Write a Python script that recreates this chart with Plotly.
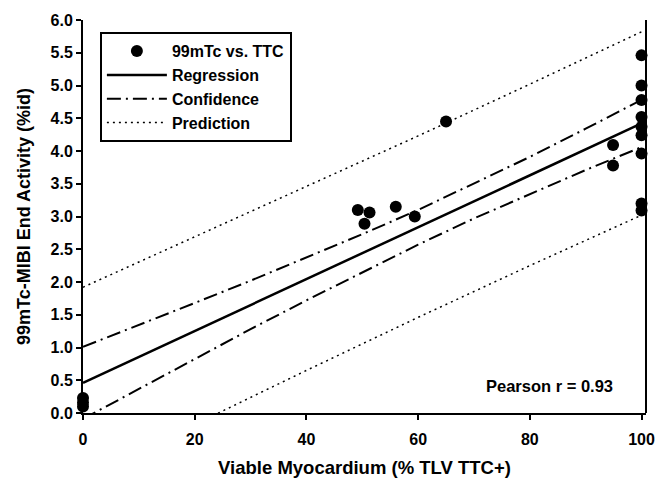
import plotly.graph_objects as go

# Scatter data: viable myocardium (% TLV TTC+) vs 99mTc-MIBI end activity (%id)
pts_x = [0, 0, 0, 49.2, 50.4, 51.3, 56.0, 59.4, 65.0, 94.9, 94.9,
         100, 100, 100, 100, 100, 100, 100, 100, 100]
pts_y = [0.10, 0.16, 0.23, 3.10, 2.89, 3.06, 3.15, 3.00, 4.45, 4.09, 3.78,
         5.46, 5.00, 4.78, 4.52, 4.37, 4.24, 3.96, 3.20, 3.09]

# Regression line
reg_x = [0, 100]
reg_y = [0.46, 4.42]

# Confidence band
band_x = [0, 10, 20, 30, 40, 50, 60, 70, 80, 90, 100]
conf_upper = [1.01, 1.34, 1.68, 2.02, 2.37, 2.73, 3.10, 3.50, 3.91, 4.34, 4.78]
conf_lower = [-0.09, 0.37, 0.82, 1.28, 1.72, 2.15, 2.57, 2.97, 3.34, 3.71, 4.06]

# Prediction band
pred_x = [0, 20, 40, 60, 80, 100]
pred_upper = [1.92, 2.69, 3.45, 4.23, 5.02, 5.82]
pred_lower = [-1.00, -0.17, 0.65, 1.46, 2.25, 3.02]

x_ticks = [0, 20, 40, 60, 80, 100]
y_ticks = [0.0, 0.5, 1.0, 1.5, 2.0, 2.5, 3.0, 3.5, 4.0, 4.5, 5.0, 5.5, 6.0]

FONT = "Liberation Sans, Arial, sans-serif"

fig = go.Figure()
fig.add_trace(go.Scatter(x=pts_x, y=pts_y, mode="markers", name="99mTc vs. TTC",
                         marker=dict(color="black", size=12), cliponaxis=False))
fig.add_trace(go.Scatter(x=reg_x, y=reg_y, mode="lines", name="Regression",
                         line=dict(color="black", width=2.5)))
fig.add_trace(go.Scatter(x=band_x, y=conf_upper, mode="lines", name="Confidence",
                         line=dict(color="black", width=2, dash="14px,5px,2px,5px"),
                         legendgroup="conf"))
fig.add_trace(go.Scatter(x=band_x, y=conf_lower, mode="lines", name="Confidence",
                         line=dict(color="black", width=2, dash="14px,5px,2px,5px"),
                         legendgroup="conf", showlegend=False))
fig.add_trace(go.Scatter(x=pred_x, y=pred_upper, mode="lines", name="Prediction",
                         line=dict(color="black", width=1.5, dash="2px,4px"),
                         legendgroup="pred"))
fig.add_trace(go.Scatter(x=pred_x, y=pred_lower, mode="lines", name="Prediction",
                         line=dict(color="black", width=1.5, dash="2px,4px"),
                         legendgroup="pred", showlegend=False))

fig.add_annotation(x=95.3, y=0.41, xref="x", yref="y", text="Pearson r = 0.93",
                   showarrow=False, xanchor="right", yanchor="middle",
                   font=dict(family=FONT, size=16.5, color="black", weight="bold"))

# right frame line
fig.add_shape(type="line", xref="paper", yref="paper", x0=1, x1=1, y0=0, y1=1,
              line=dict(color="black", width=2))

fig.update_layout(
    width=664, height=478,
    margin=dict(l=83, r=18, t=20, b=65, autoexpand=False),
    plot_bgcolor="white", paper_bgcolor="white",
    font=dict(family=FONT, color="black", weight="bold"),
    showlegend=True,
    legend=dict(x=0.03, y=0.969, xanchor="left", yanchor="top",
                bordercolor="black", borderwidth=2, bgcolor="white",
                font=dict(family=FONT, size=16, color="black", weight="bold"),
                tracegroupgap=0, itemwidth=60),
    xaxis=dict(range=[0, 100.8], tickvals=x_ticks, showgrid=False, zeroline=False,
               showline=True, linecolor="black", linewidth=2, automargin=False,
               ticks="outside", ticklen=5, tickwidth=2, tickcolor="black",
               ticklabelstandoff=6,
               tickfont=dict(family=FONT, size=16, weight="bold"),
               title=dict(text="Viable Myocardium (% TLV TTC+)", standoff=18,
                          font=dict(family=FONT, size=18.5, weight="bold"))),
    yaxis=dict(range=[0, 6], tickvals=y_ticks, tickformat=".1f", showgrid=False,
               zeroline=False, showline=True, linecolor="black", linewidth=2,
               automargin=False,
               ticks="outside", ticklen=5, tickwidth=2, tickcolor="black",
               tickfont=dict(family=FONT, size=16, weight="bold"),
               title=dict(text="99mTc-MIBI End Activity (%id)", standoff=15,
                          font=dict(family=FONT, size=18, weight="bold"))),
)

fig.write_html("out.html")
